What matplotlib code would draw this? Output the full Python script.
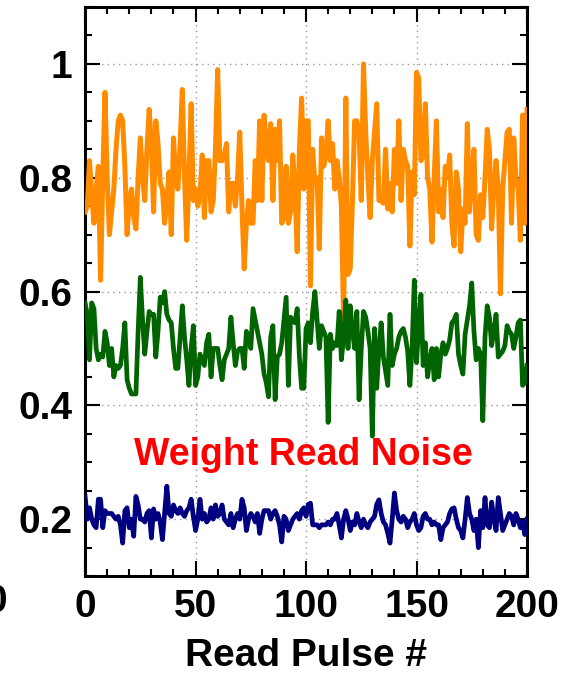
import numpy as np
import matplotlib
matplotlib.use("Agg")
import matplotlib.pyplot as plt
from matplotlib.ticker import MultipleLocator

plt.rcParams['font.family'] = ['Liberation Sans', 'DejaVu Sans']
plt.rcParams['font.weight'] = 'bold'

# read pulse number 0..200, conductance read back for three weight states
orange = [
    0.74, 0.75, 0.83, 0.77, 0.72, 0.78, 0.82, 0.62, 0.80, 0.95,
    0.80, 0.70, 0.74, 0.78, 0.85, 0.90, 0.91, 0.90, 0.82, 0.70,
    0.76, 0.78, 0.73, 0.71, 0.80, 0.87, 0.80, 0.76, 0.85, 0.92,
    0.86, 0.74, 0.90, 0.86, 0.79, 0.78, 0.72, 0.76, 0.81, 0.70,
    0.87, 0.80, 0.78, 0.86, 0.955, 0.80, 0.69, 0.80, 0.93, 0.76,
    0.78, 0.75, 0.77, 0.84, 0.73, 0.83, 0.83, 0.74, 0.76, 0.85,
    0.99, 0.83, 0.83, 0.84, 0.86, 0.74, 0.79, 0.79, 0.75, 0.80,
    0.88, 0.75, 0.64, 0.72, 0.76, 0.72, 0.72, 0.83, 0.76, 0.90,
    0.76, 0.91, 0.86, 0.83, 0.895, 0.76, 0.885, 0.83, 0.90, 0.72,
    0.73, 0.82, 0.72, 0.74, 0.84, 0.78, 0.67, 0.85, 0.94, 0.78,
    0.90, 0.90, 0.61, 0.85, 0.79, 0.80, 0.675, 0.87, 0.82, 0.84,
    0.90, 0.83, 0.86, 0.78, 0.83, 0.80, 0.75, 0.546, 0.94, 0.63,
    0.64, 0.76, 0.90, 0.90, 0.88, 0.76, 1.00, 0.88, 0.80, 0.73,
    0.83, 0.88, 0.93, 0.76, 0.76, 0.755, 0.85, 0.745, 0.79, 0.74,
    0.85, 0.79, 0.90, 0.76, 0.85, 0.83, 0.82, 0.68, 0.81, 0.77,
    0.985, 0.975, 0.83, 0.84, 0.93, 0.80, 0.78, 0.687, 0.80, 0.90,
    0.74, 0.78, 0.73, 0.82, 0.80, 0.84, 0.72, 0.68, 0.81, 0.78,
    0.67, 0.745, 0.72, 0.895, 0.74, 0.80, 0.85, 0.70, 0.69, 0.77,
    0.73, 0.80, 0.885, 0.85, 0.71, 0.78, 0.83, 0.78, 0.596, 0.78,
    0.83, 0.88, 0.885, 0.72, 0.87, 0.80, 0.78, 0.69, 0.91, 0.72,
    0.92,
]

green = [
    0.58, 0.56, 0.48, 0.58, 0.57, 0.50, 0.48, 0.49, 0.485, 0.53,
    0.51, 0.47, 0.50, 0.45, 0.47, 0.465, 0.47, 0.50, 0.545, 0.445,
    0.43, 0.42, 0.42, 0.42, 0.53, 0.625, 0.55, 0.49, 0.53, 0.565,
    0.56, 0.56, 0.485, 0.53, 0.59, 0.58, 0.60, 0.56, 0.55, 0.545,
    0.50, 0.465, 0.465, 0.52, 0.575, 0.52, 0.48, 0.435, 0.50, 0.54,
    0.435, 0.45, 0.49, 0.48, 0.47, 0.51, 0.525, 0.45, 0.50, 0.50,
    0.50, 0.47, 0.445, 0.48, 0.49, 0.50, 0.555, 0.51, 0.47, 0.495,
    0.50, 0.50, 0.465, 0.53, 0.52, 0.50, 0.57, 0.55, 0.53, 0.51,
    0.49, 0.455, 0.44, 0.415, 0.52, 0.54, 0.41, 0.485, 0.49, 0.51,
    0.55, 0.59, 0.435, 0.555, 0.55, 0.545, 0.57, 0.485, 0.43, 0.43,
    0.535, 0.545, 0.51, 0.565, 0.60, 0.55, 0.50, 0.54, 0.53, 0.52,
    0.37, 0.525, 0.50, 0.51, 0.505, 0.565, 0.48, 0.52, 0.585, 0.50,
    0.575, 0.53, 0.50, 0.565, 0.41, 0.50, 0.565, 0.555, 0.53, 0.50,
    0.346, 0.535, 0.43, 0.50, 0.545, 0.485, 0.46, 0.435, 0.56, 0.47,
    0.49, 0.50, 0.52, 0.53, 0.535, 0.52, 0.495, 0.435, 0.50, 0.62,
    0.475, 0.54, 0.595, 0.47, 0.51, 0.45, 0.48, 0.50, 0.445, 0.50,
    0.45, 0.49, 0.51, 0.49, 0.50, 0.515, 0.545, 0.55, 0.56, 0.49,
    0.47, 0.455, 0.525, 0.55, 0.575, 0.615, 0.53, 0.48, 0.50, 0.49,
    0.373, 0.52, 0.575, 0.555, 0.505, 0.53, 0.56, 0.485, 0.49, 0.495,
    0.505, 0.54, 0.53, 0.525, 0.50, 0.52, 0.545, 0.55, 0.435, 0.44,
    0.47,
]

blue = [
    0.24, 0.20, 0.22, 0.20, 0.19, 0.185, 0.235, 0.235, 0.185, 0.215,
    0.21, 0.21, 0.21, 0.205, 0.20, 0.205, 0.19, 0.158, 0.215, 0.22,
    0.185, 0.20, 0.17, 0.24, 0.225, 0.20, 0.20, 0.195, 0.21, 0.215,
    0.167, 0.218, 0.20, 0.21, 0.195, 0.164, 0.21, 0.258, 0.21, 0.205,
    0.225, 0.215, 0.21, 0.22, 0.21, 0.205, 0.215, 0.22, 0.235, 0.205,
    0.18, 0.20, 0.235, 0.20, 0.21, 0.195, 0.20, 0.22, 0.20, 0.225,
    0.205, 0.21, 0.225, 0.20, 0.195, 0.19, 0.21, 0.185, 0.20, 0.21,
    0.20, 0.235, 0.22, 0.18, 0.20, 0.21, 0.205, 0.195, 0.21, 0.175,
    0.20, 0.215, 0.215, 0.215, 0.20, 0.21, 0.215, 0.205, 0.19, 0.16,
    0.205, 0.20, 0.18, 0.19, 0.20, 0.205, 0.21, 0.20, 0.215, 0.22,
    0.205, 0.226, 0.228, 0.19, 0.19, 0.19, 0.185, 0.19, 0.19, 0.19,
    0.195, 0.19, 0.20, 0.20, 0.21, 0.19, 0.167, 0.20, 0.215, 0.20,
    0.18, 0.195, 0.19, 0.21, 0.195, 0.185, 0.20, 0.19, 0.185, 0.195,
    0.20, 0.205, 0.226, 0.234, 0.21, 0.195, 0.19, 0.175, 0.158, 0.20,
    0.246, 0.215, 0.20, 0.195, 0.205, 0.20, 0.185, 0.195, 0.20, 0.21,
    0.19, 0.18, 0.185, 0.205, 0.21, 0.20, 0.20, 0.19, 0.195, 0.19,
    0.19, 0.164, 0.185, 0.19, 0.195, 0.21, 0.218, 0.22, 0.20, 0.185,
    0.18, 0.167, 0.20, 0.238, 0.21, 0.20, 0.18, 0.20, 0.15, 0.215,
    0.185, 0.238, 0.19, 0.185, 0.23, 0.20, 0.18, 0.238, 0.21, 0.18,
    0.19, 0.20, 0.21, 0.205, 0.19, 0.21, 0.20, 0.185, 0.195, 0.173,
    0.20,
]

assert len(orange) == 201 and len(green) == 201 and len(blue) == 201, (len(orange), len(green), len(blue))
pulse = np.arange(201)

fig = plt.figure(figsize=(5.75, 6.73), dpi=100)
ax = fig.add_axes([0.148, 0.144, 0.7685, 0.8456])

ax.plot(pulse, orange, color='#ff8c00', lw=3.6, zorder=3)
ax.plot(pulse, green, color='#006400', lw=3.4, zorder=3)
ax.plot(pulse, blue, color='#000080', lw=3.4, zorder=3)

ax.set_xlim(0, 200)
ax.set_ylim(0.1, 1.1)
ax.xaxis.set_major_locator(MultipleLocator(50))
ax.xaxis.set_minor_locator(MultipleLocator(10))
ax.yaxis.set_major_locator(MultipleLocator(0.2))
ax.yaxis.set_minor_locator(MultipleLocator(0.05))
ax.yaxis.set_major_formatter(plt.FuncFormatter(lambda v, p: '1' if abs(v - 1) < 1e-6 else f'{v:.1f}'))

ax.grid(True, which='major', color='#999999', ls=(0, (1, 3)), lw=1.0, zorder=1)
ax.tick_params(which='both', direction='in', top=True, right=True, width=1.5, color='black')
ax.tick_params(which='major', length=11, labelsize=28, pad=9)
ax.tick_params(which='minor', length=5)
for s in ax.spines.values():
    s.set_linewidth(2.2)

ax.set_xlabel('Read Pulse #', fontsize=28, fontweight='bold', labelpad=10)
ax.text(99, 0.313, 'Weight Read Noise', color='#ff0000', fontsize=27,
        fontweight='bold', ha='center', va='center')

# sliver of the neighbouring panel's tick label
fig.text(0.012, 0.106, '0', fontsize=28, fontweight='bold', ha='right', va='center')

fig.savefig('out.png', dpi=100)
